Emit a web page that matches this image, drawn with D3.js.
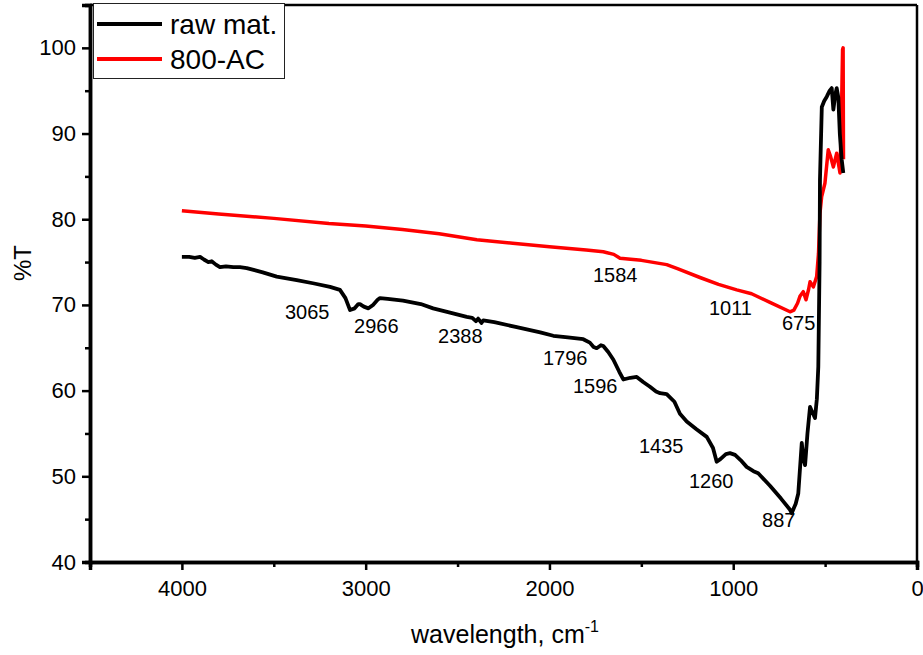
<!DOCTYPE html>
<html><head><meta charset="utf-8">
<script src="https://cdn.jsdelivr.net/npm/d3@7"></script>
<style>body{margin:0;background:#fff}svg{display:block}text{font-family:"Liberation Sans",Arial,sans-serif;fill:#000}</style>
</head><body><svg id="c" width="923" height="655"></svg>
<script>
const rawWn = [4000,3960,3930,3901,3880,3856,3838,3815,3793,3760,3720,3684,3647,3560,3484,3375,3280,3194,3140,3110,3085,3060,3040,3031,3010,2985,2960,2935,2922,2880,2797,2700,2633,2541,2450,2420,2400,2388,2370,2360,2300,2178,2050,1979,1900,1816,1780,1760,1743,1720,1707,1680,1652,1620,1598,1560,1525,1490,1453,1420,1398,1362,1320,1290,1253,1200,1144,1110,1090,1070,1040,1018,990,960,927,890,864,800,740,691,682,660,646,627,618,609,596,582,570,555,545,537,530,528,518,505,491,475,464,455,445,437,428,420,410,401];
const rawT  = [75.6,75.6,75.5,75.6,75.3,75.0,75.1,74.7,74.4,74.5,74.4,74.4,74.3,73.8,73.3,72.9,72.5,72.1,71.75,70.8,69.4,69.6,70.1,70.1,69.8,69.6,70.0,70.6,70.8,70.7,70.5,70.1,69.6,69.1,68.6,68.5,68.1,68.4,67.9,68.2,68.0,67.4,66.8,66.4,66.2,66.0,65.6,65.1,64.95,65.3,65.2,64.5,63.6,62.2,61.3,61.5,61.6,61.0,60.45,59.9,59.7,59.6,58.7,57.3,56.4,55.5,54.6,53.3,51.7,52.0,52.6,52.7,52.5,51.9,51.1,50.6,50.35,48.9,47.4,46.1,45.7,46.8,48.0,53.9,52.0,51.3,55.0,58.1,57.5,56.8,59.0,62.8,75.0,84.6,93.1,93.8,94.3,95.0,95.3,92.8,94.5,95.3,94.2,90.0,87.0,85.4];
const acWn = [4000,3800,3500,3200,3000,2800,2600,2395,2200,2000,1800,1707,1650,1616,1500,1362,1300,1181,1080,981,900,800,691,670,650,637,619,604,590,582,564,546,536,528,519,501,483,470,455,437,419,412,408,405,402,400];
const acT  = [81.0,80.6,80.1,79.5,79.2,78.8,78.3,77.6,77.2,76.8,76.4,76.2,75.9,75.45,75.2,74.7,74.2,73.2,72.4,71.75,71.3,70.3,69.2,69.4,70.2,71.0,71.55,70.6,71.8,72.7,72.1,73.3,76.0,80.7,82.6,84.2,88.1,87.3,86.1,87.7,85.4,91.0,96.0,99.8,100.0,87.0];
const xTicks = [4000,3000,2000,1000,0];
const xMinor = [4500,3500,2500,1500,500];
const yTicks = [40,50,60,70,80,90,100];
const yMinor = [45,55,65,75,85,95,105];
const peakLabels = ["3065","2966","2388","1796","1596","1435","1260","887","1584","1011","675"];
const peakLabelWn = [3439,3063,2606,2035,1872,1513,1241,843,1763,1132,735];
const peakLabelT = [68.36,66.72,65.56,62.99,59.72,52.72,48.64,44.08,72.68,68.82,67.07];
const seriesNames = ["raw mat.","800-AC"];
const seriesColors = ["#000000","#ff0000"];

const svg = d3.select("#c");
const L=90,R=917,T=5,B=562;
const x = d3.scaleLinear().domain([4500,0]).range([L,R]);
const y = d3.scaleLinear().domain([40,105]).range([B,T]);

svg.append("line").attr("x1",L).attr("x2",R).attr("y1",T).attr("y2",T).attr("stroke","#000").attr("stroke-width",2.5);
svg.append("line").attr("x1",R).attr("x2",R).attr("y1",T).attr("y2",B).attr("stroke","#000").attr("stroke-width",2.5);

const line = d3.line().x(d=>x(d[0])).y(d=>y(d[1]));
const rawData = rawWn.map((w,i)=>[w,rawT[i]]);
const acData = acWn.map((w,i)=>[w,acT[i]]);
svg.append("path").datum(acData).attr("d",line).attr("fill","none").attr("stroke",seriesColors[1]).attr("stroke-width",3.5).attr("stroke-linejoin","round");
svg.append("path").datum(rawData).attr("d",line).attr("fill","none").attr("stroke",seriesColors[0]).attr("stroke-width",3.8).attr("stroke-linejoin","round");

const xAx = svg.append("g").attr("transform",`translate(0,${B})`).call(d3.axisBottom(x).tickValues(xTicks).tickFormat(d3.format("d")).tickSizeOuter(0).tickSize(8).tickPadding(10));
const xAxM = svg.append("g").attr("transform",`translate(0,${B})`).call(d3.axisBottom(x).tickValues(xMinor).tickFormat("").tickSizeOuter(0).tickSize(5));
const yAx = svg.append("g").attr("transform",`translate(${L},0)`).call(d3.axisLeft(y).tickValues(yTicks).tickSizeOuter(0).tickSize(8).tickPadding(6));
const yAxM = svg.append("g").attr("transform",`translate(${L},0)`).call(d3.axisLeft(y).tickValues(yMinor).tickFormat("").tickSizeOuter(0).tickSize(5));
[xAx,xAxM,yAx,yAxM].forEach(g=>{
  g.select(".domain").attr("stroke","#000").attr("stroke-width",3.5);
  g.selectAll(".tick line").attr("stroke","#000").attr("stroke-width",2.5);
  g.selectAll(".tick text").style("font-size","22px").style("font-family","'Liberation Sans',Arial,sans-serif");
});
xAx.selectAll(".tick text").attr("dy","0.71em");

const xt = svg.append("text").attr("x",505).attr("y",643).attr("text-anchor","middle").style("font-size","25px");
xt.append("tspan").text("wavelength, cm");
xt.append("tspan").attr("dy",-11).style("font-size","16px").text("-1");
svg.append("text").attr("transform","translate(31,263) rotate(-90)").attr("text-anchor","middle").style("font-size","24px").text("%T");

svg.selectAll("text.pk").data(peakLabels).join("text").attr("class","pk")
  .attr("x",(d,i)=>x(peakLabelWn[i])).attr("y",(d,i)=>y(peakLabelT[i]))
  .attr("text-anchor","start").style("font-size","20px").text(d=>d);

const lg = svg.append("g");
lg.append("rect").attr("x",93.5).attr("y",3.5).attr("width",191).attr("height",75).attr("fill","#fff").attr("stroke","#222").attr("stroke-width",1);
seriesNames.forEach((n,i)=>{
  const yy = 24 + i*35;
  lg.append("line").attr("x1",97).attr("x2",162).attr("y1",yy).attr("y2",yy).attr("stroke",seriesColors[i]).attr("stroke-width",4);
  lg.append("text").attr("x",170).attr("y",yy+10).style("font-size","28px").text(n);
});
</script></body></html>
